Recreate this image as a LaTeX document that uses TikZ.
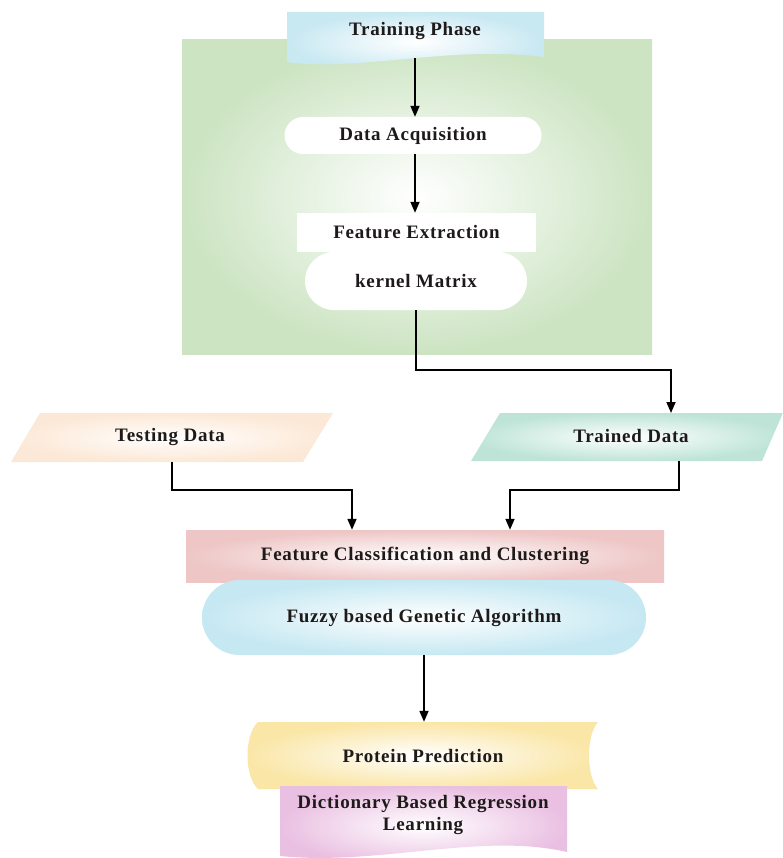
\documentclass[tikz,border=0pt]{standalone}
\usepackage{fontspec}
\setmainfont{Liberation Serif}[LetterSpace=4]
\usetikzlibrary{arrows.meta}
\definecolor{bggreen}{RGB}{204,228,194}
\definecolor{tpblue}{RGB}{200,232,242}
\definecolor{peach}{RGB}{252,232,214}
\definecolor{tealc}{RGB}{190,228,216}
\definecolor{pinkc}{RGB}{238,198,198}
\definecolor{fzblue}{RGB}{198,232,242}
\definecolor{yellc}{RGB}{250,230,166}
\definecolor{purpc}{RGB}{234,192,226}
\definecolor{txt}{RGB}{30,26,26}
\tikzset{
  lbl/.style={font=\fontsize{19}{22}\selectfont\bfseries, text=txt, inner sep=0pt},
  arr/.style={line width=1.7pt, -{Triangle[width=9pt,length=11pt]}},
}
\begin{document}
\begin{tikzpicture}[x=1pt,y=-1pt]
\useasboundingbox (0,0) rectangle (783,858);
\fill[white] (0,0) rectangle (783,858);
% green background panel
\shade[inner color=white, outer color=bggreen] (182,40) rectangle (652,354);
% Training phase document shape
\shade[inner color=white, outer color=tpblue] (287,12) -- (544,12) -- (544,57)
  .. controls (450,45) and (360,72) .. (287,62) -- cycle;
\node[lbl] (tp) at (415,31) {Training Phase};
\coordinate (tpb) at (415,58);
% Data acquisition
\node[lbl, fill=white, minimum width=257pt, minimum height=37pt, rounded corners=18.5pt] (da) at (413,135.5) {Data Acquisition};
% Feature extraction + kernel matrix
\node[lbl, fill=white, minimum width=239pt, minimum height=39pt] (fe) at (416.5,232.5) {Feature Extraction};
\node[lbl, fill=white, minimum width=222pt, minimum height=58pt, rounded corners=29pt] (km) at (416,281) {kernel Matrix};
% Testing / Trained data parallelograms
\shade[inner color=white, outer color=peach] (40,413) -- (333,413) -- (303,462) -- (11,462) -- cycle;
\node[lbl] (ts) at (170,437) {Testing Data};
\coordinate (tsb) at (172,462);
\shade[inner color=white, outer color=tealc] (500,413) -- (783,413) -- (762,461) -- (471,461) -- cycle;
\node[lbl] (td) at (631,436) {Trained Data};
\coordinate (tdt) at (671,413);
\coordinate (tdb) at (679,461);
% Feature classification + fuzzy
\node[lbl, shading=radial, inner color=white, outer color=pinkc, minimum width=478pt, minimum height=52pt] (fc) at (425,556) {Feature Classification and Clustering};
\node[lbl, shading=radial, inner color=white, outer color=fzblue, minimum width=444pt, minimum height=75pt, rounded corners=37.5pt] (fz) at (424,617.5) {Fuzzy based Genetic Algorithm};
% Protein prediction (stored data shape)
\shade[inner color=white, outer color=yellc] (258,722) -- (598,722)
  .. controls (586,735) and (586,776) .. (598,789) -- (258,789)
  .. controls (244,776) and (244,735) .. (258,722) -- cycle;
\node[lbl, minimum width=330pt, minimum height=67pt] (pp) at (423,755.5) {Protein Prediction};
% Dictionary based regression learning (document shape)
\shade[inner color=white, outer color=purpc] (280,786) -- (567,786) -- (567,852)
  .. controls (480,832) and (380,866) .. (280,856) -- cycle;
\node[lbl, align=center] (dbr) at (423,815) {Dictionary Based Regression\\Learning};
% connectors
\coordinate (j1) at (352,490);
\coordinate (j2) at (510,490);
\draw[arr] (tpb) -- (tpb |- da.north);
\draw[arr] (tpb |- da.south) -- (tpb |- fe.north);
\draw[arr] (km.south) -- ++(0,60) -| (tdt);
\draw[arr] (tsb) |- (j1) -- (j1 |- fc.north);
\draw[arr] (tdb) |- (j2) -- (j2 |- fc.north);
\draw[arr] (fz.south) -- (fz.south |- pp.north);
\end{tikzpicture}
\end{document}
